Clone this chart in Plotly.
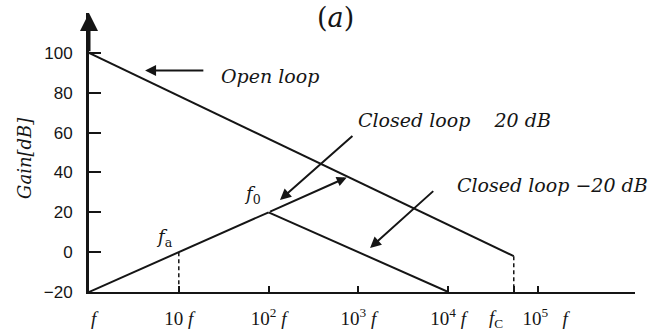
import numpy as np
import plotly.graph_objects as go

# Frequencies are expressed as multiples of f; gains in dB
f_c = 10 ** 4.73

open_loop_freq = [1, f_c]
open_loop_gain = [100, -2]

closed20_freq = [1, 10, 100]
closed20_gain = [-20, 0, 20]
closed20_tip = (10 ** 2.87, 37.5)

closedm20_freq = [100, 1e4]
closedm20_gain = [20, -20]

NB = "\u00a0"
tick_freqs = [1, 10, 100, 1000, 1e4, f_c, 1e5]
tick_text = [NB * 2 + "<i>f</i>", "10 <i>f</i>", "10<sup>2</sup> <i>f</i>", "10<sup>3</sup> <i>f</i>",
             "10<sup>4</sup> <i>f</i>", "",
             NB * 3 + "10<sup>5</sup> " + NB * 2 + "<i>f</i>"]
fc_label = "<i>f</i><sub>C</sub>"
gain_ticks = [-20, 0, 20, 40, 60, 80, 100]

INK = "#151515"
SERIF = "DejaVu Serif"
lg = np.log10

fig = go.Figure()
line = dict(color=INK, width=2)
fig.add_trace(go.Scatter(x=open_loop_freq, y=open_loop_gain, mode="lines", line=line))
fig.add_trace(go.Scatter(x=closed20_freq, y=closed20_gain, mode="lines", line=line))
fig.add_trace(go.Scatter(x=closedm20_freq, y=closedm20_gain, mode="lines", line=line))
# dashed drop lines at f_a and f_c
dash = dict(color=INK, width=1.5, dash="4px,3px")
fig.add_trace(go.Scatter(x=[10, 10], y=[0, -20], mode="lines", line=dash))
fig.add_trace(go.Scatter(x=[f_c, f_c], y=[open_loop_gain[1], -20], mode="lines", line=dash))

ann = []
# continuation of the closed-loop rise up to the open-loop curve, with arrowhead
ann.append(dict(x=lg(closed20_tip[0]), y=closed20_tip[1], ax=lg(100), ay=20,
                xref="x", yref="y", axref="x", ayref="y", text="", showarrow=True,
                arrowhead=2, arrowsize=1, arrowwidth=2, arrowcolor=INK))
# y-axis arrow
ann.append(dict(x=0, y=120, ax=0, ay=100, xref="x", yref="y", axref="x", ayref="y",
                text="", showarrow=True, arrowhead=2, arrowsize=1.2, arrowwidth=3,
                arrowcolor=INK))
# pointer arrows
for (hx, hy, tx, ty) in [(0.624, 91.1, 1.29, 91.1),
                         (2.127, 26.2, 2.95, 58.9),
                         (3.13, 2.1, 3.85, 31.3)]:
    ann.append(dict(x=hx, y=hy, ax=tx, ay=ty, xref="x", yref="y", axref="x", ayref="y",
                    text="", showarrow=True, arrowhead=2, arrowsize=1.1, arrowwidth=2,
                    arrowcolor=INK))

tfont = dict(family=SERIF, size=19, color=INK)
ann.append(dict(x=1.45, y=88.5, xref="x", yref="y", xanchor="left", yanchor="middle",
                text="<i>Open loop</i>", showarrow=False, font=tfont))
ann.append(dict(x=2.97, y=66.4, xref="x", yref="y", xanchor="left", yanchor="middle",
                text="<i>Closed loop    20 dB</i>", showarrow=False, font=tfont))
ann.append(dict(x=4.07, y=33.8, xref="x", yref="y", xanchor="left", yanchor="middle",
                text="<i>Closed loop −20 dB</i>", showarrow=False, font=tfont))
lfont = dict(family=SERIF, size=18, color=INK)
ann.append(dict(x=0.846, y=7.1, xref="x", yref="y", text="<i>f</i><sub>a</sub>",
                showarrow=False, font=lfont))
ann.append(dict(x=1.826, y=28.7, xref="x", yref="y", text="<i>f</i><sub>0</sub>",
                showarrow=False, font=lfont))
# cut-off frequency label under the axis, set a little left of its drop line
ann.append(dict(x=lg(f_c), y=-20, xref="x", yref="y", xshift=-18, yshift=-27,
                xanchor="center", yanchor="middle", text=fc_label, showarrow=False,
                font=dict(family="Liberation Serif", size=19, color=INK)))
ann.append(dict(x=0.5, y=1.0, xref="paper", yref="paper", xshift=-27, yshift=-4,
                xanchor="center", yanchor="middle",
                text="(<i>a</i>)", showarrow=False, font=dict(family=SERIF, size=27, color=INK)))
ann.append(dict(x=-64 / 546, y=47.3, xref="paper", yref="y", textangle=-90,
                xanchor="center", yanchor="middle",
                text="<i>Gain[dB]</i>", showarrow=False,
                font=dict(family=SERIF, size=18, color=INK)))

fig.update_layout(
    width=663, height=331,
    margin=dict(l=89, r=28, t=13, b=39, autoexpand=False),
    paper_bgcolor="white", plot_bgcolor="white",
    showlegend=False,
    annotations=ann,
    xaxis=dict(type="log", range=[0, 6.08], showgrid=False, zeroline=False,
               automargin=False,
               showline=True, linecolor=INK, linewidth=2,
               tickvals=tick_freqs, ticktext=tick_text, ticks="inside", ticklen=6,
               tickwidth=2, tickcolor=INK, ticklabelstandoff=8, tickangle=0,
               tickfont=dict(family="Liberation Serif", size=19, color=INK)),
    yaxis=dict(range=[-20, 120], showgrid=False, zeroline=False,
               automargin=False,
               showline=True, linecolor=INK, linewidth=3,
               tickvals=gain_ticks, ticks="inside", ticklen=12, tickwidth=2,
               tickcolor=INK, ticklabelstandoff=10,
               tickfont=dict(family="Liberation Sans", size=17, color=INK)),
)

fig.write_html("out.html")
